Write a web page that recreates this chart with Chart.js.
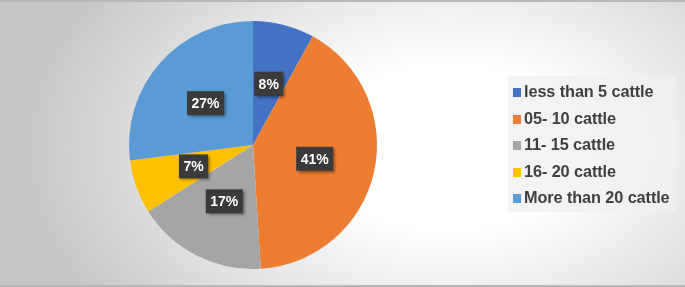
<!DOCTYPE html>
<html>
<head>
<meta charset="utf-8">
<script src="https://cdn.jsdelivr.net/npm/chart.js@4"></script>
<style>
  html, body { margin: 0; padding: 0; }
  #wrap {
    position: relative;
    width: 685px; height: 287px;
    background: radial-gradient(ellipse 430px 280px at 450px 145px, #ffffff 0%, #ffffff 30%, #e6e6e6 62%, #c6c6c6 100%);
    border-top: 2px solid #b8b8b8;
    border-bottom: 2px solid #b8b8b8;
    box-sizing: border-box;
    overflow: hidden;
  }
  #chart { position: absolute; left: 0; top: 0; }
  #legend {
    position: absolute;
    left: 508px; top: 74px;
    width: 168px; height: 136px;
    background: rgba(240, 240, 240, 0.8);
    font-family: "Liberation Sans", Arial, sans-serif;
    font-weight: bold;
    font-size: 16.3px;
    color: #404040;
    box-sizing: border-box;
    padding: 2px 0 0 5px;
  }
  .item { height: 26.6px; line-height: 26.6px; white-space: nowrap; letter-spacing: -0.1px; }
  .sw { display: inline-block; width: 8px; height: 9px; margin-right: 3px; vertical-align: 0px; }
</style>
</head>
<body>
<div id="wrap">
  <canvas id="chart" width="685" height="283"></canvas>
  <div id="legend"></div>
</div>
<script>
// Data
const categories = ["less than 5 cattle", "05- 10 cattle", "11- 15 cattle", "16- 20 cattle", "More than 20 cattle"];
const percentages = [8, 41, 17, 7, 27];
const sliceColors = ["#4472C4", "#ED7D31", "#A5A5A5", "#FFC000", "#5B9BD5"];

// Dark boxed percentage labels
const boxLabels = {
    id: "boxLabels",
    afterDatasetsDraw(chart) {
        const ctx = chart.ctx;
        const meta = chart.getDatasetMeta(0);
        ctx.save();
        ctx.font = "bold 14px 'Liberation Sans', Arial, sans-serif";
        ctx.textAlign = "center";
        ctx.textBaseline = "middle";
        meta.data.forEach(function(arc, i) {
            const mid = (arc.startAngle + arc.endAngle) / 2;
            const r = arc.outerRadius * 0.51;
            const x = arc.x + Math.cos(mid) * r;
            const y = arc.y + Math.sin(mid) * r;
            const text = percentages[i] + "%";
            const w = ctx.measureText(text).width + 9;
            const h = 24;
            ctx.shadowColor = "rgba(0,0,0,0.45)";
            ctx.shadowBlur = 3;
            ctx.shadowOffsetX = 2;
            ctx.shadowOffsetY = 2;
            ctx.fillStyle = "#3a3a3a";
            ctx.fillRect(x - w / 2, y - h / 2, w, h);
            ctx.shadowColor = "transparent";
            ctx.fillStyle = "#ffffff";
            ctx.fillText(text, x, y + 1);
        });
        ctx.restore();
    }
};

let pieChart = new Chart(document.getElementById("chart"), {
    type: "pie",
    data: {
        labels: categories,
        datasets: [{
            data: percentages,
            backgroundColor: sliceColors,
            borderWidth: 0
        }]
    },
    options: {
        responsive: false,
        animation: false,
        layout: { padding: { left: 129, right: 308, top: 19, bottom: 16 } },
        plugins: {
            legend: { display: false },
            tooltip: { enabled: false }
        }
    },
    plugins: [boxLabels]
});

// Legend
let legendEl = document.getElementById("legend");
categories.forEach(function(name, i) {
    let row = document.createElement("div");
    row.className = "item";
    row.innerHTML = '<span class="sw" style="background:' + sliceColors[i] + '"></span>' + name;
    legendEl.appendChild(row);
});
</script>
</body>
</html>
